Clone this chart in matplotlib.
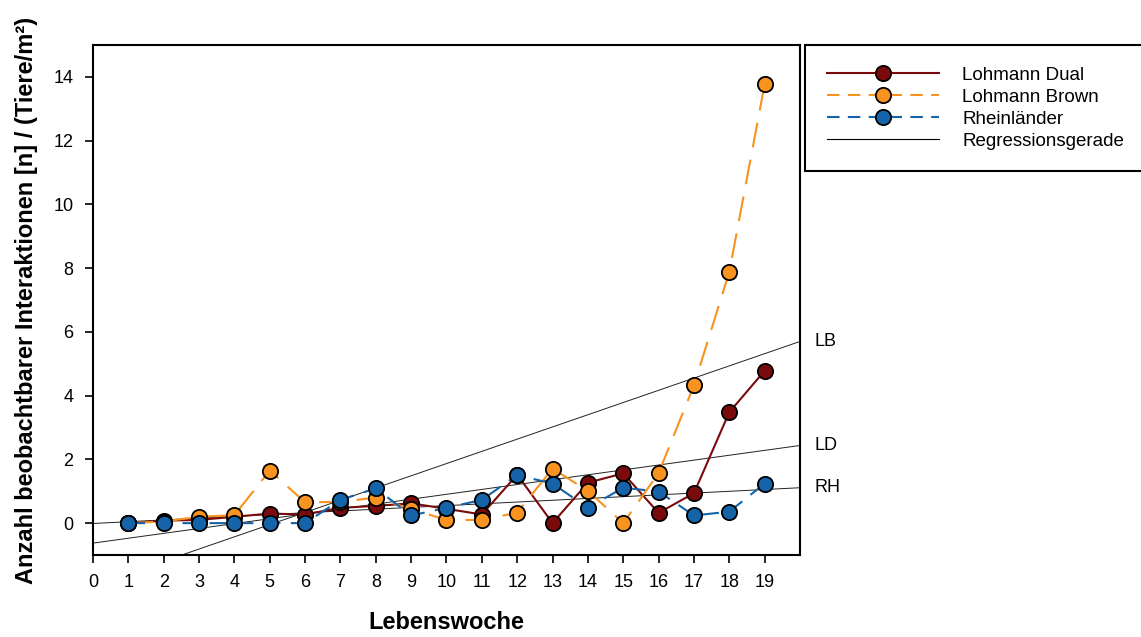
import numpy as np
import matplotlib.pyplot as plt
from matplotlib.lines import Line2D

plt.rcParams['font.family'] = ['Liberation Sans', 'DejaVu Sans']

wochen = list(range(1, 20))
dual = [0, 0.08, 0.1, 0.2, 0.3, 0.27, 0.48, 0.54, 0.62, 0.45, 0.27, 1.52, 0, 1.27, 1.56, 0.32, 0.94, 3.48, 4.78]
brown = [0, 0.05, 0.2, 0.25, 1.65, 0.65, 0.67, 0.8, 0.44, 0.1, 0.1, 0.33, 1.71, 1.01, 0, 1.57, 4.32, 7.88, 13.77]
rhein = [0, 0, 0, 0, 0, 0, 0.73, 1.09, 0.24, 0.48, 0.73, 1.51, 1.24, 0.48, 1.11, 0.99, 0.24, 0.36, 1.24]

c_dual = '#7a0a0c'
c_brown = '#f7931e'
c_rhein = '#1563a8'

fig = plt.figure(figsize=(11.41, 6.37), dpi=100)
ax = fig.add_axes([93/1141, 1-555/637, (800-93)/1141, (555-45)/637])

mk = dict(marker='o', markersize=11, markeredgecolor='black', markeredgewidth=1.3)
ax.plot(wochen, dual, color=c_dual, lw=1.5, **mk, markerfacecolor=c_dual)
ax.plot(wochen, brown, color=c_brown, lw=1.5, dashes=(12, 6), **mk, markerfacecolor=c_brown)
ax.plot(wochen, rhein, color=c_rhein, lw=1.5, dashes=(8, 5), **mk, markerfacecolor=c_rhein)

# Regressionsgeraden
xr = np.array([0, 20])
for serie, name in [(brown, 'LB'), (dual, 'LD'), (rhein, 'RH')]:
    m, b = np.polyfit(wochen, serie, 1)
    ax.plot(xr, m*xr + b, color='#222222', lw=0.7, zorder=1)
    ax.text(20.4, m*20 + b, name, fontsize=13, va='center', ha='left', clip_on=False)

ax.set_xlim(0, 20)
ax.set_ylim(-1, 15)
ax.set_xticks(range(0, 20))
ax.set_yticks(range(0, 15, 2))
ax.tick_params(direction='out', length=6, width=1.2, labelsize=13, pad=8)
for s in ax.spines.values():
    s.set_linewidth(1.5)

ax.set_xlabel('Lebenswoche', fontsize=17, fontweight='bold', labelpad=14)
ax.set_ylabel('Anzahl beobachtbarer Interaktionen [n] / (Tiere/m²)', fontsize=17, fontweight='bold', labelpad=11)

handles = [
    Line2D([], [], color=c_dual, lw=1.5, **mk, markerfacecolor=c_dual),
    Line2D([], [], color=c_brown, lw=1.5, dashes=(6, 4), **mk, markerfacecolor=c_brown),
    Line2D([], [], color=c_rhein, lw=1.5, dashes=(6, 4), **mk, markerfacecolor=c_rhein),
    Line2D([], [], color='black', lw=0.8),
]
labels = ['Lohmann Dual', 'Lohmann Brown', 'Rheinländer', 'Regressionsgerade']
leg = fig.legend(handles, labels, loc='upper left', bbox_to_anchor=(805/1141, 1-45/637),
                 fontsize=13.5, handlelength=6, handletextpad=1.25, labelspacing=0.26,
                 fancybox=False, edgecolor='black', framealpha=1, borderpad=1.15,
                 borderaxespad=0)
leg.get_frame().set_linewidth(1.5)

fig.savefig('out.png', dpi=100)
